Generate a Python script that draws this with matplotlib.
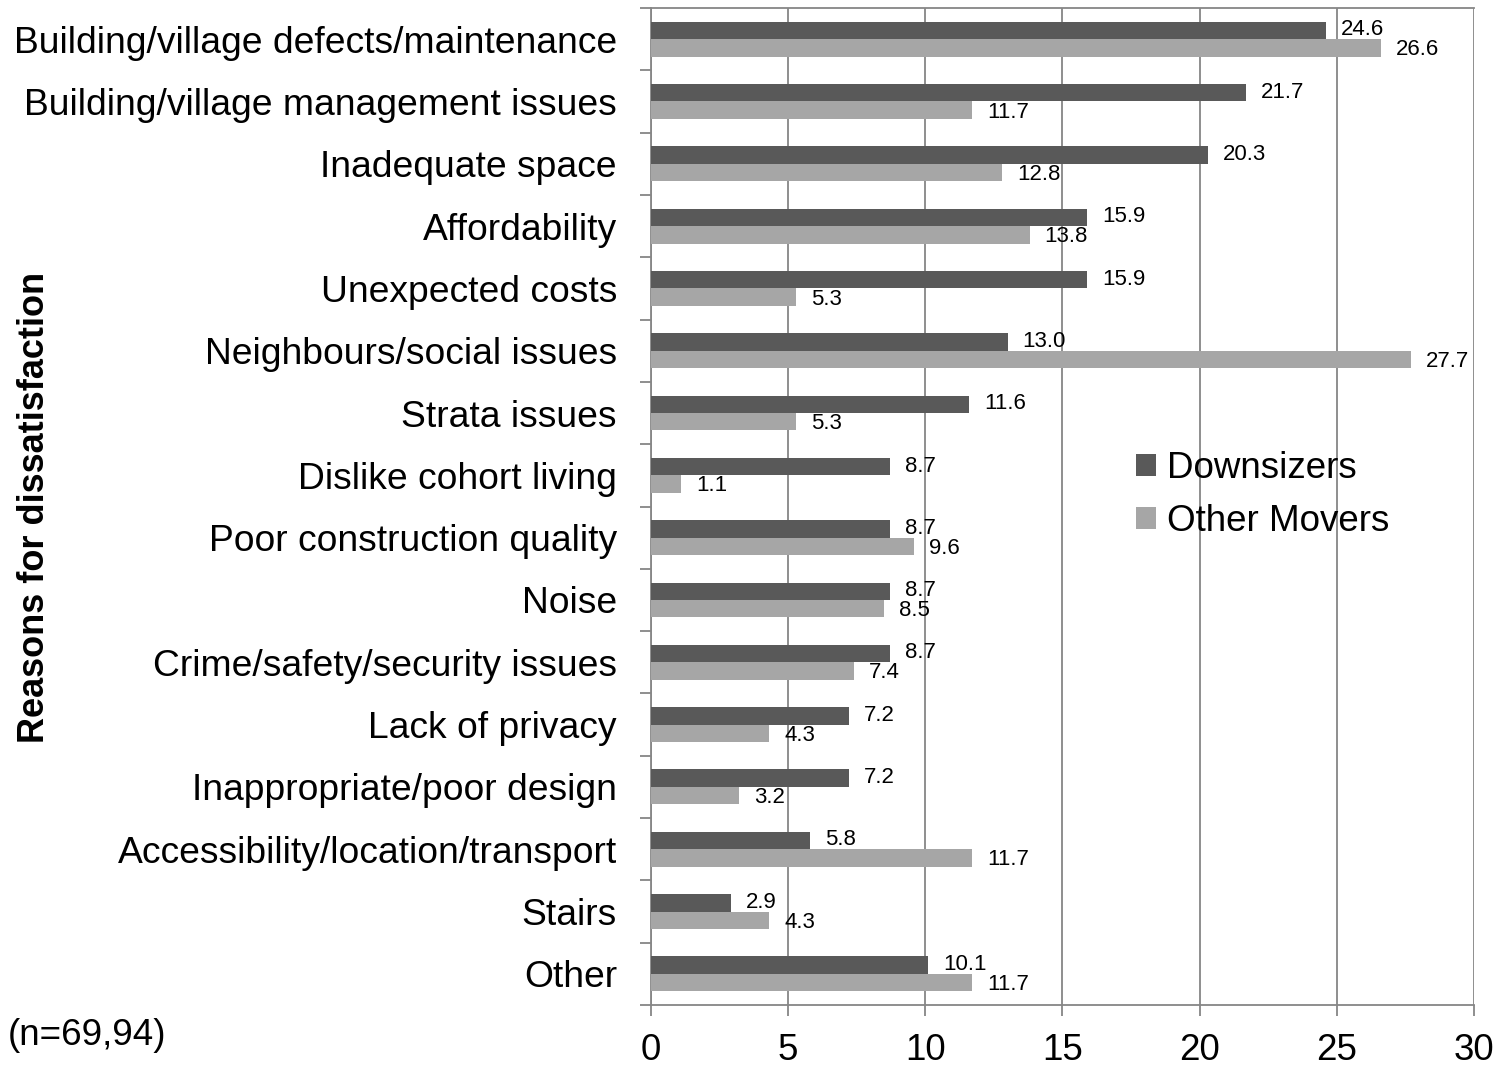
import matplotlib
matplotlib.use("Agg")
import matplotlib.pyplot as plt
import numpy as np

plt.rcParams['font.family'] = ['Liberation Sans', 'DejaVu Sans']

categories = [
    "Building/village defects/maintenance",
    "Building/village management issues",
    "Inadequate space",
    "Affordability",
    "Unexpected costs",
    "Neighbours/social issues",
    "Strata issues",
    "Dislike cohort living",
    "Poor construction quality",
    "Noise",
    "Crime/safety/security issues",
    "Lack of privacy",
    "Inappropriate/poor design",
    "Accessibility/location/transport",
    "Stairs",
    "Other",
]
downsizers = [24.6, 21.7, 20.3, 15.9, 15.9, 13.0, 11.6, 8.7, 8.7, 8.7, 8.7, 7.2, 7.2, 5.8, 2.9, 10.1]
other_movers = [26.6, 11.7, 12.8, 13.8, 5.3, 27.7, 5.3, 1.1, 9.6, 8.5, 7.4, 4.3, 3.2, 11.7, 4.3, 11.7]
x_ticks = [0, 5, 10, 15, 20, 25, 30]

fig = plt.figure(figsize=(14.99, 10.66), dpi=100)
ax = fig.add_axes([0.4343, 0.0572, 0.549, 0.9353])

n = len(categories)
y = np.arange(n)
h = 0.28
c_dark = "#595959"
c_light = "#a6a6a6"
ax.barh(y - h / 2, downsizers, height=h, color=c_dark, label="Downsizers", zorder=3)
ax.barh(y + h / 2, other_movers, height=h, color=c_light, label="Other Movers", zorder=3)

for yi, v in zip(y, downsizers):
    ax.text(v + 0.55, yi - h / 2 - 0.01, f"{v:.1f}", fontsize=16, va="center", ha="left", zorder=4)
for yi, v in zip(y, other_movers):
    ax.text(v + 0.55, yi + h / 2 + 0.03, f"{v:.1f}", fontsize=16, va="center", ha="left", zorder=4)

ax.set_ylim(n - 0.5, -0.5)
ax.set_xlim(0, 30)
ax.set_xticks(x_ticks)
ax.set_xticklabels([str(t) for t in x_ticks], fontsize=26.5)
ax.set_yticks(y)
ax.set_yticklabels(categories, fontsize=26.8)
ax.set_yticks(np.arange(-0.5, n, 1), minor=True)
ax.tick_params(axis='y', which='major', length=0, pad=24.5)
ax.tick_params(axis='y', which='minor', length=8, color="#868686", width=1.3)
ax.tick_params(axis='x', which='major', length=8, color="#868686", width=1.3, pad=12)

ax.grid(axis='x', color="#868686", linewidth=1.3, zorder=0)
for s in ['left', 'bottom', 'top']:
    ax.spines[s].set_color("#868686")
    ax.spines[s].set_linewidth(1.3)
ax.spines['right'].set_visible(False)

fig.text(35 / 1499, 1 - 507 / 1066, "Reasons for dissatisfaction", fontsize=26,
         fontweight='bold', rotation=90, va="center", ha="center")

ax.legend(loc='upper left', bbox_to_anchor=(0.589, 0.556), frameon=False, fontsize=26.5,
          borderpad=0, borderaxespad=0,
          handlelength=0.55, handleheight=0.55, handletextpad=0.3, labelspacing=0.5)

fig.text(0.005, 0.029, "(n=69,94)", fontsize=26.5, va="center", ha="left")

fig.savefig("out.png", dpi=100)
